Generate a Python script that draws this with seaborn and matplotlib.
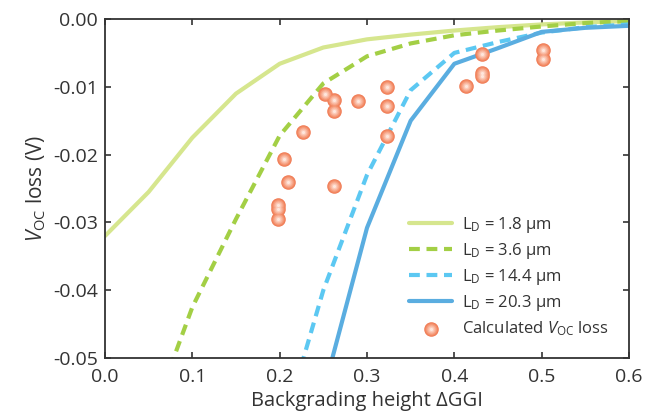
import numpy as np
import pandas as pd
import matplotlib
matplotlib.use("Agg")
import matplotlib.pyplot as plt
import seaborn as sns
from matplotlib.legend_handler import HandlerTuple

# ---- data ----
x_grid = [0.0, 0.05, 0.1, 0.15, 0.2, 0.25, 0.3, 0.35, 0.4, 0.45, 0.5, 0.55, 0.6]
ld_18 = [-0.032, -0.0255, -0.0175, -0.011, -0.0066, -0.0042, -0.003, -0.0023, -0.0017, -0.0012, -0.0008, -0.0005, -0.0003]
x_36 = [0.05, 0.1, 0.15, 0.2, 0.25, 0.3, 0.35, 0.4, 0.45, 0.5, 0.55, 0.6]
ld_36 = [-0.060, -0.0425, -0.0295, -0.0172, -0.0095, -0.0055, -0.0036, -0.0024, -0.0017, -0.0011, -0.0006, -0.0003]
x_144 = [0.2, 0.25, 0.3, 0.35, 0.4, 0.45, 0.5, 0.55, 0.6]
ld_144 = [-0.062, -0.040, -0.023, -0.0105, -0.005, -0.0034, -0.002, -0.0012, -0.0008]
x_203 = [0.25, 0.3, 0.35, 0.4, 0.45, 0.5, 0.55, 0.6]
ld_203 = [-0.055, -0.0308, -0.015, -0.0066, -0.0043, -0.0019, -0.0013, -0.001]

calc_x = [0.252, 0.2625, 0.2625, 0.290, 0.3225, 0.3225, 0.3225, 0.227, 0.205, 0.21,
          0.2625, 0.1985, 0.1985, 0.1985, 0.432, 0.432, 0.432, 0.413, 0.502, 0.502]
calc_y = [-0.0110, -0.0119, -0.0135, -0.0121, -0.0101, -0.0129, -0.0172, -0.0167, -0.0206, -0.0240,
          -0.0247, -0.0275, -0.0280, -0.0295, -0.0051, -0.0079, -0.0084, -0.0099, -0.0046, -0.0059]

labels = [r'L$_\mathrm{D}$ = 1.8 μm', r'L$_\mathrm{D}$ = 3.6 μm',
          r'L$_\mathrm{D}$ = 14.4 μm', r'L$_\mathrm{D}$ = 20.3 μm']
colors = ['#d6e68e', '#a3cf45', '#5cc8f2', '#5aade0']

sns.set_style('ticks')
plt.rcParams['font.family'] = ['Open Sans', 'DejaVu Sans']
plt.rcParams['mathtext.fontset'] = 'custom'
plt.rcParams['mathtext.rm'] = 'Open Sans'
plt.rcParams['mathtext.it'] = 'Open Sans:italic'

fig = plt.figure(figsize=(6.51, 4.16), dpi=100)
ax = fig.add_axes([0.1613, 0.1394, 0.8049, 0.8149])

lw = 3.0
sns.lineplot(x=x_grid, y=ld_18, ax=ax, color=colors[0], lw=lw, sort=False)
sns.lineplot(x=x_36, y=ld_36, ax=ax, color=colors[1], lw=lw, sort=False)
sns.lineplot(x=x_144, y=ld_144, ax=ax, color=colors[2], lw=lw, sort=False)
sns.lineplot(x=x_203, y=ld_203, ax=ax, color=colors[3], lw=lw, sort=False)
lines = ax.get_lines()
lines[1].set_dashes((2.6, 1.6))
lines[2].set_dashes((2.6, 1.6))

n_before = len(ax.collections)
layers = [(110, '#f07c56'), (82, '#f38c66'), (57, '#f69f80'), (35, '#f9b59c'), (17, '#fcccba'), (5, '#fee6dc')]
for i, (sz, col) in enumerate(layers):
    sns.scatterplot(x=calc_x, y=calc_y, ax=ax, s=sz, color=col, linewidth=0, zorder=5 + i)
colls = ax.collections[n_before:]

ax.set_xlim(0, 0.6)
ax.set_ylim(-0.05, 0)
ax.set_xticks([0.0, 0.1, 0.2, 0.3, 0.4, 0.5, 0.6])
ax.set_xticklabels(['0.0', '0.1', '0.2', '0.3', '0.4', '0.5', '0.6'])
ax.set_yticks([0.0, -0.01, -0.02, -0.03, -0.04, -0.05])
ax.set_yticklabels(['0.00', '-0.01', '-0.02', '-0.03', '-0.04', '-0.05'])
ax.tick_params(direction='in', length=4, width=1.2, top=True, right=True,
               labelsize=14, colors='#333333')
ax.tick_params(axis='x', pad=7)
ax.tick_params(axis='y', pad=5)
for s in ax.spines.values():
    s.set_visible(True)
    s.set_color('#333333')
    s.set_linewidth(1.3)

ax.set_xlabel('Backgrading height ΔGGI', fontsize=14.5, color='#333333', labelpad=4)
ax.set_ylabel(r'$V_{\mathrm{OC}}$ loss (V)', fontsize=15, color='#333333', labelpad=4)

handles = list(lines[:4]) + [tuple(colls)]
leg = ax.legend(handles, labels + [r'Calculated $V_{\mathrm{OC}}$ loss'],
                handler_map={tuple: HandlerTuple(ndivide=1)},
                loc='lower right', frameon=False, fontsize=12, handlelength=2.6,
                labelspacing=0.37, borderaxespad=0.9, handletextpad=0.6,
                borderpad=0.3)
for t in leg.get_texts():
    t.set_color('#333333')

fig.savefig('out.png', dpi=100)
